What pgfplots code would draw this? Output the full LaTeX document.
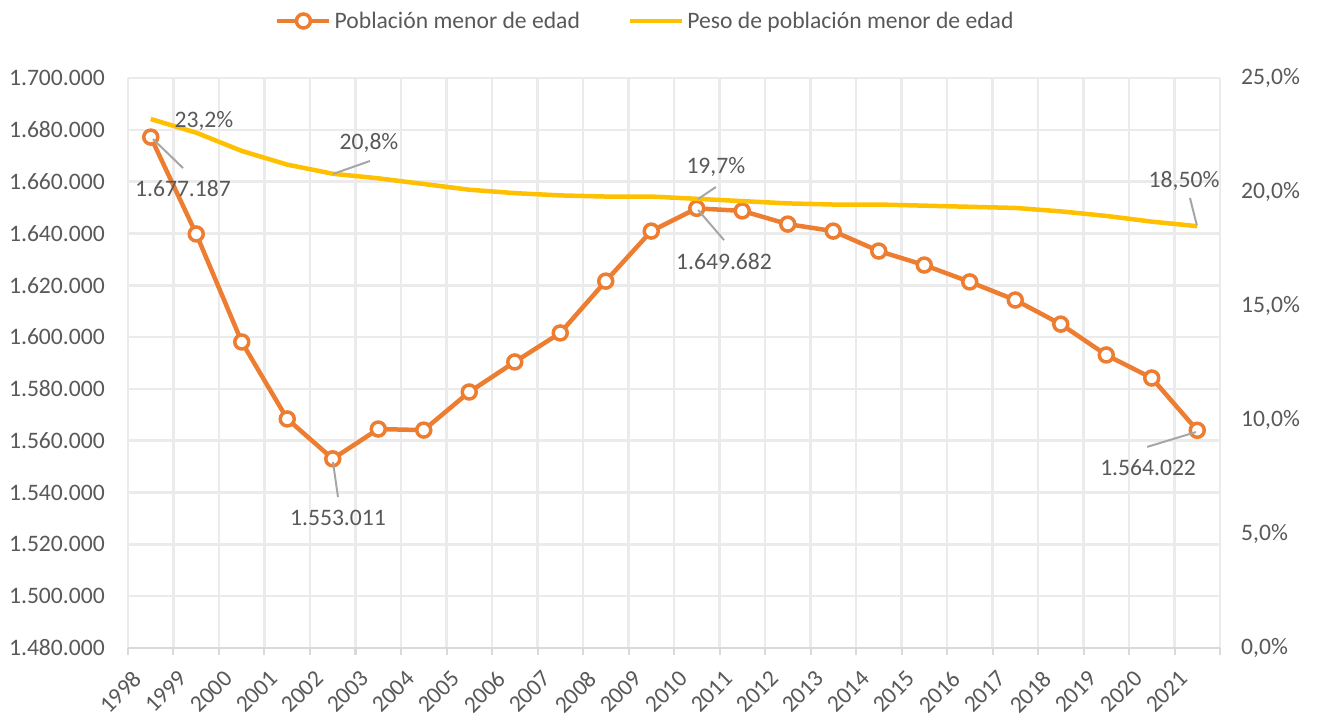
\documentclass[border=0pt]{standalone}
\usepackage{fontspec}
\setmainfont{Carlito}
\usepackage{pgfplots}
\usepackage{pgfplotstable}
\pgfplotsset{compat=1.18}
\definecolor{txt}{HTML}{595959}
\definecolor{orng}{HTML}{ED7D31}
\definecolor{ylw}{HTML}{FFC000}
\definecolor{grd}{HTML}{EBEBEB}
\definecolor{axl}{HTML}{D9D9D9}
\definecolor{lead}{HTML}{A6A6A6}

\pgfplotstableread{
x pob peso
0 1677187 23.2
1 1639800 22.6
2 1598100 21.8
3 1568400 21.2
4 1553011 20.8
5 1564500 20.6
6 1564100 20.35
7 1578800 20.1
8 1590400 19.95
9 1601600 19.85
10 1621600 19.8
11 1640900 19.8
12 1649682 19.7
13 1648700 19.6
14 1643600 19.5
15 1640900 19.45
16 1633200 19.45
17 1627800 19.4
18 1621300 19.35
19 1614300 19.3
20 1605000 19.15
21 1593100 18.95
22 1584200 18.7
23 1564022 18.5
}\datatable

\begin{document}
\begin{tikzpicture}[x=1bp,y=1bp,font=\fontsize{23.7}{28}\selectfont]
\useasboundingbox (-128,-67) rectangle (1190,648);
\begin{axis}[
  at={(0,0)}, anchor=south west,
  scale only axis, width=1092bp, height=570bp,
  xmin=-0.5, xmax=23.5, ymin=1480000, ymax=1700000,
  axis x line*=bottom, axis y line*=left,
  x axis line style={axl, line width=2.5bp, -},
  y axis line style={draw=none},
  xtick={0,...,23},
  xticklabels={1998,1999,2000,2001,2002,2003,2004,2005,2006,2007,2008,2009,2010,2011,2012,2013,2014,2015,2016,2017,2018,2019,2020,2021},
  minor xtick={-0.5,0.5,...,23.5},
  ytick={1480000,1500000,1520000,1540000,1560000,1580000,1600000,1620000,1640000,1660000,1680000,1700000},
  scaled y ticks=false,
  /pgf/number format/assume math mode=true,
  /pgf/number format/fixed,
  /pgf/number format/1000 sep={.},
  major tick length=0pt,
  minor tick length=7bp,
  tick align=outside,
  minor tick style={axl, line width=2bp},
  xminorgrids, ymajorgrids,
  major grid style={grd, line width=2.5bp},
  minor grid style={grd, line width=2.5bp},
  tick label style={text=txt, font=\fontsize{23.7}{28}\selectfont},
  xticklabel style={xshift=-19bp, yshift=-21bp, rotate=45, anchor=north east, inner sep=0pt},
  yticklabel style={anchor=east, inner sep=0pt, xshift=-23bp},
  legend style={at={(0.1346,1.1)}, anchor=west, draw=none, fill=none, inner sep=0pt,
    legend columns=2, font=\fontsize{23.7}{28}\selectfont, text=txt,
    nodes={inner sep=0pt, text=txt},
    /tikz/every odd column/.append style={column sep=3bp},
    /tikz/every even column/.append style={column sep=48bp}},
  legend cell align=left,
  legend image code/.code={\draw[mark repeat=2,mark phase=2,#1] plot coordinates {(0bp,0bp) (26bp,0bp) (52bp,0bp)};},
]
\addplot[orng, line width=4.5bp, mark=*, mark size=7bp, mark options={fill=white, draw=orng, line width=3.5bp}] table[x=x, y=pob] {\datatable};
\addlegendentry{Población menor de edad}
\addlegendimage{ylw, line width=4.5bp}
\addlegendentry{Peso de población menor de edad}
\end{axis}
\begin{axis}[
  at={(0,0)}, anchor=south west,
  scale only axis, width=1092bp, height=570bp,
  xmin=-0.5, xmax=23.5, ymin=0, ymax=25,
  axis x line=none, axis y line*=right,
  y axis line style={draw=none},
  ytick={0,5,10,15,20,25},
  major tick length=0pt,
  /pgf/number format/assume math mode=true,
  yticklabel={\pgfmathprintnumber[fixed,fixed zerofill,precision=1,use comma]{\tick}\%},
  yticklabel style={anchor=west, inner sep=0pt, xshift=21bp, text=txt, font=\fontsize{23.7}{28}\selectfont},
  clip=false,
]
\addplot[ylw, line width=4.5bp] table[x=x, y=peso] {\datatable};
\draw[lead, line width=2bp] (axis cs:0.049,22.32) -- (axis cs:0.709,21.05);
\draw[lead, line width=2bp] (axis cs:4.005,20.79) -- (axis cs:4.819,21.36);
\draw[lead, line width=2bp] (axis cs:12.03,19.69) -- (axis cs:12.42,20.22);
\draw[lead, line width=2bp] (axis cs:12.03,19.21) -- (axis cs:12.60,17.89);
\draw[lead, line width=2bp] (axis cs:4.005,8.16) -- (axis cs:4.115,6.62);
\draw[lead, line width=2bp] (axis cs:22.99,18.55) -- (axis cs:22.84,19.74);
\draw[lead, line width=2bp] (axis cs:22.97,9.47) -- (axis cs:21.90,8.82);
\begin{scope}[every node/.style={text=txt, inner sep=0pt, font=\fontsize{23.7}{28}\selectfont}]
\node at (axis cs:0.709,20.13) {1.677.187};
\node at (axis cs:1.170,23.11) {23,2\%};
\node at (axis cs:4.797,22.15) {20,8\%};
\node at (axis cs:12.42,21.10) {19,7\%};
\node at (axis cs:12.60,16.93) {1.649.682};
\node at (axis cs:4.115,5.70) {1.553.011};
\node at (axis cs:22.71,20.48) {18,50\%};
\node at (axis cs:21.92,7.89) {1.564.022};
\end{scope}
\end{axis}
\end{tikzpicture}
\end{document}
